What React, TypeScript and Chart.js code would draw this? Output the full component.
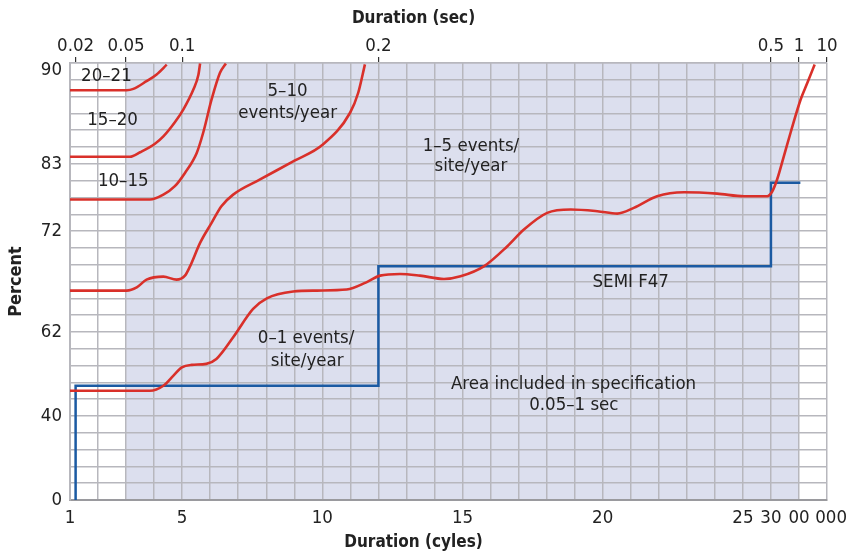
import React, { useEffect, useRef } from "react";
import { Chart, registerables } from "chart.js";

Chart.register(...registerables);

// x positions are grid-column indices (0..27), y positions are grid-row indices (0..26)
const bottomTickPos = [0, 4, 9, 14, 19, 24, 25, 26, 27];
const bottomTickLabels = ["1", "5", "10", "15", "20", "25", "30", "00", "\u2002000"];
const topTickPos = [0.2, 2, 4, 11, 25, 26, 27];
const topTickLabels = ["0.02", "0.05", "0.1", "0.2", "0.5", "1", "10"];
const yTickPos = [0, 5, 10, 16, 20, 26];
const yTickLabels: (string | string[])[] = ["0", "40", "62", "72", "83", ["", "90"]];

const shadedRange = [2, 26];

const curve2021X = [0, 2.02, 2.26, 2.73, 3.09, 3.45];
const curve2021Y = [24.38, 24.38, 24.46, 24.92, 25.32, 25.9];

const curve1520X = [0, 2.14, 2.5, 3.03, 3.33, 3.74, 4.04, 4.4, 4.58, 4.64];
const curve1520Y = [20.42, 20.42, 20.69, 21.2, 21.64, 22.48, 23.23, 24.42, 25.3, 25.97];

const curve1015X = [0, 2.85, 3.33, 3.74, 4.1, 4.52, 4.75, 5.05, 5.35, 5.56];
const curve1015Y = [17.88, 17.88, 18.17, 18.67, 19.46, 20.65, 21.85, 23.83, 25.42, 25.97];

const curve510X = [0, 2.02, 2.38, 2.73, 3.33, 3.8, 4.1, 4.28, 4.64, 5.05, 5.4, 5.82, 6.78, 7.96, 9.02, 9.99, 10.28, 10.52];
const curve510Y = [12.46, 12.46, 12.65, 13.11, 13.29, 13.11, 13.35, 13.9, 15.3, 16.49, 17.48, 18.17, 19.07, 20.15, 21.15, 23.04, 24.23, 25.92];

const curve01X = [0, 2.85, 3.33, 3.69, 3.99, 4.34, 4.86, 5.22, 5.82, 6.53, 7.02, 7.96, 8.8, 9.87, 10.57, 11.06, 11.77, 12.48, 13.34, 13.93, 14.76, 15.6, 16.19, 17.02, 17.86, 18.81, 19.52, 20.11, 20.94, 21.9, 23.08, 24.04, 24.87, 25.05, 25.22, 25.46, 25.7, 26.06, 26.3, 26.56];
const curve01Y = [6.5, 6.5, 6.8, 7.4, 7.89, 8.04, 8.1, 8.39, 9.68, 11.37, 12.0, 12.4, 12.46, 12.52, 12.95, 13.35, 13.45, 13.35, 13.15, 13.31, 13.9, 15.1, 16.09, 17.08, 17.28, 17.18, 17.04, 17.38, 18.07, 18.31, 18.23, 18.07, 18.07, 18.37, 19.07, 20.45, 21.85, 23.83, 24.82, 25.91];

const semiX = [0.2, 0.2, 11.0, 11.0, 25.0, 25.0, 26.05];
const semiY = [0, 6.8, 6.8, 13.9, 13.9, 18.87, 18.87];

const noteTexts = ["20–21", "15–20", "10–15", "5–10", "events/year", "1–5 events/", "site/year", "0–1 events/", "site/year", "SEMI F47", "Area included in specification", "0.05–1 sec"];
const noteX = [1.3, 1.52, 1.9, 7.76, 7.76, 14.3, 14.3, 8.42, 8.46, 20.0, 17.96, 17.97];
const noteY = [25.2, 22.6, 18.98, 24.32, 23.02, 21.05, 19.85, 9.6, 8.23, 12.97, 6.92, 5.65];

const FONT = "'DejaVu Sans Condensed', 'Liberation Sans Narrow', sans-serif";
const RED = "#d9302a";
const BLUE = "#1b5aa2";
const GRID = "#b7b7bd";
const SHADE = "#dcdfee";
const TEXT = "#222222";

function pts(xs: number[], ys: number[]) {
  return xs.map((x, i) => ({ x, y: ys[i] }));
}

const bgPlugin = {
  id: "bgShade",
  beforeDraw(chart: any) {
    const { ctx, chartArea } = chart;
    const xs = chart.scales.x;
    ctx.save();
    ctx.fillStyle = "#ffffff";
    ctx.fillRect(chartArea.left, chartArea.top, chartArea.right - chartArea.left, chartArea.bottom - chartArea.top);
    const x0 = xs.getPixelForValue(shadedRange[0]);
    const x1 = xs.getPixelForValue(shadedRange[1]);
    ctx.fillStyle = SHADE;
    ctx.fillRect(x0, chartArea.top, x1 - x0, chartArea.bottom - chartArea.top);
    ctx.restore();
  },
  afterDatasetsDraw(chart: any) {
    const { ctx } = chart;
    const xs = chart.scales.x;
    const ys = chart.scales.y;
    ctx.save();
    ctx.fillStyle = TEXT;
    ctx.font = `18.5px ${FONT}`;
    ctx.textAlign = "center";
    ctx.textBaseline = "middle";
    noteTexts.forEach((t, i) => {
      ctx.fillText(t, xs.getPixelForValue(noteX[i]), ys.getPixelForValue(noteY[i]));
    });
    ctx.restore();
  },
};

export default function App() {
  const ref = useRef<HTMLCanvasElement>(null);
  useEffect(() => {
    if (!ref.current) return;
    const redDs = (xs: number[], ys: number[]) => ({
      data: pts(xs, ys),
      borderColor: RED,
      borderWidth: 2.6,
      pointRadius: 0,
      cubicInterpolationMode: "monotone" as const,
      fill: false,
    });
    const chart = new Chart(ref.current, {
      type: "line",
      data: {
        datasets: [
          redDs(curve2021X, curve2021Y),
          redDs(curve1520X, curve1520Y),
          redDs(curve1015X, curve1015Y),
          redDs(curve510X, curve510Y),
          redDs(curve01X, curve01Y),
          {
            data: pts(semiX, semiY),
            borderColor: BLUE,
            borderWidth: 2.5,
            pointRadius: 0,
            tension: 0,
            fill: false,
          },
        ],
      },
      options: {
        animation: false,
        responsive: false,
        maintainAspectRatio: false,
        layout: { padding: { left: 0, right: 21, top: 0, bottom: 0 } },
        plugins: {
          legend: { display: false },
          tooltip: { enabled: false },
          title: {
            display: true,
            text: "Duration (sec)",
            color: TEXT,
            font: { family: FONT, size: 17, weight: "bold" },
            padding: { top: 8, bottom: 0 },
          },
          subtitle: {
            display: true,
            position: "bottom",
            text: "Duration (cyles)",
            color: TEXT,
            font: { family: FONT, size: 17, weight: "bold" },
            padding: { top: 0, bottom: 3 },
          },
        },
        scales: {
          x: {
            type: "linear",
            position: "bottom",
            min: 0,
            max: 27,
            afterBuildTicks: (s: any) => {
              s.ticks = Array.from({ length: 28 }, (_, i) => ({ value: i }));
            },
            afterFit: (s: any) => {
              s.height = 32.6;
              s.paddingLeft = 0;
              s.paddingRight = 0;
            },
            ticks: {
              autoSkip: false,
              maxRotation: 0,
              padding: 7,
              color: TEXT,
              font: { family: FONT, size: 18.5 },
              callback: (v: any) => {
                const k = bottomTickPos.indexOf(Number(v));
                return k >= 0 ? bottomTickLabels[k] : "";
              },
            },
            grid: { color: GRID, lineWidth: 1.5, drawTicks: false },
            border: { color: "#9a9a9e", width: 2 },
          },
          x2: {
            type: "linear",
            position: "top",
            min: 0,
            max: 27,
            afterBuildTicks: (s: any) => {
              s.ticks = topTickPos.map((v) => ({ value: v }));
            },
            afterFit: (s: any) => {
              s.height = 34.6;
              s.paddingLeft = 0;
              s.paddingRight = 0;
            },
            ticks: {
              autoSkip: false,
              maxRotation: 0,
              padding: 0,
              color: TEXT,
              font: { family: FONT, size: 18.5 },
              callback: (v: any) => {
                const k = topTickPos.indexOf(Number(v));
                return k >= 0 ? topTickLabels[k] : "";
              },
            },
            grid: { drawOnChartArea: false, color: "#333", lineWidth: 1.2, tickLength: 6 },
            border: { color: GRID, width: 1.5 },
          },
          y: {
            type: "linear",
            min: 0,
            max: 26,
            afterBuildTicks: (s: any) => {
              s.ticks = Array.from({ length: 27 }, (_, i) => ({ value: i }));
            },
            afterFit: (s: any) => {
              s.width = 70;
              s.paddingTop = 0;
              s.paddingBottom = 0;
            },
            ticks: {
              autoSkip: false,
              padding: 8,
              color: TEXT,
              font: { family: FONT, size: 18.5, lineHeight: 0.75 },
              callback: (v: any) => {
                const k = yTickPos.indexOf(Number(v));
                return k >= 0 ? yTickLabels[k] : "";
              },
            },
            title: {
              display: true,
              text: "Percent",
              color: TEXT,
              font: { family: FONT, size: 18, weight: "bold" },
              padding: { top: 6, bottom: 0 },
            },
            grid: { color: GRID, lineWidth: 1.5, drawTicks: false },
            border: { color: GRID, width: 2 },
          },
        },
      },
      plugins: [bgPlugin],
    } as any);
    return () => chart.destroy();
  }, []);
  return (
    <div style={{ position: "fixed", left: 0, top: 0, width: 848, height: 556, background: "#fff" }}>
      <canvas ref={ref} width={848} height={556} style={{ width: 848, height: 556 }} />
    </div>
  );
}
